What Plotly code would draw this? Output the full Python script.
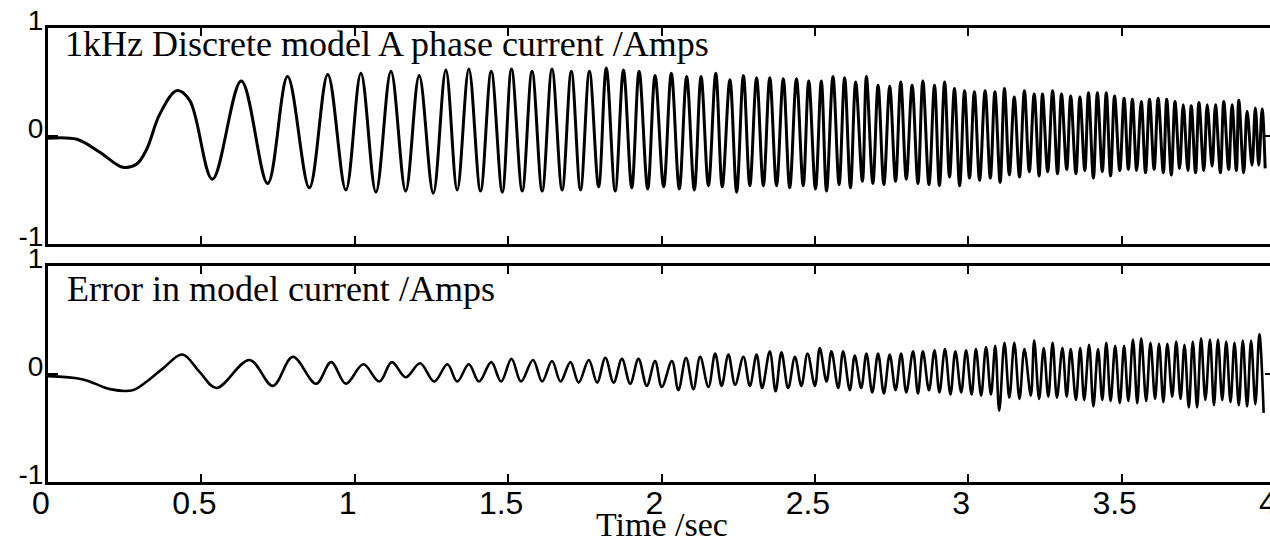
import plotly.graph_objects as go

# Model phase current (top trace): time in s, current in A
t_model = [
    0.000, 0.094, 0.169, 0.244, 0.289, 0.322, 0.364, 0.420, 0.462, 0.536,
    0.630, 0.716, 0.781, 0.852, 0.912, 0.971, 1.020, 1.069, 1.118, 1.166,
    1.210, 1.256, 1.297, 1.334, 1.372, 1.410, 1.445, 1.481, 1.511, 1.546,
    1.578, 1.611, 1.643, 1.676, 1.706, 1.736, 1.765, 1.795, 1.820, 1.849,
    1.876, 1.903, 1.927, 1.955, 1.979, 2.007, 2.032, 2.058, 2.082, 2.107,
    2.129, 2.153, 2.177, 2.198, 2.223, 2.245, 2.267, 2.288, 2.310, 2.332,
    2.353, 2.375, 2.397, 2.418, 2.440, 2.462, 2.480, 2.502, 2.521, 2.538,
    2.559, 2.579, 2.597, 2.616, 2.633, 2.655, 2.668, 2.689, 2.706, 2.725,
    2.744, 2.763, 2.780, 2.798, 2.817, 2.836, 2.852, 2.872, 2.890, 2.906,
    2.923, 2.939, 2.955, 2.972, 2.988, 3.004, 3.020, 3.037, 3.055, 3.072,
    3.087, 3.104, 3.118, 3.134, 3.150, 3.167, 3.183, 3.199, 3.215, 3.231,
    3.242, 3.259, 3.275, 3.291, 3.304, 3.321, 3.334, 3.351, 3.364, 3.380,
    3.392, 3.408, 3.421, 3.437, 3.450, 3.464, 3.477, 3.494, 3.508, 3.522,
    3.535, 3.549, 3.564, 3.578, 3.591, 3.606, 3.619, 3.636, 3.647, 3.662,
    3.674, 3.689, 3.701, 3.716, 3.727, 3.741, 3.752, 3.768, 3.779, 3.795,
    3.806, 3.822, 3.833, 3.849, 3.860, 3.874, 3.882, 3.898, 3.909, 3.925,
    3.936, 3.947, 3.958, 3.968,
]
i_model = [
    -0.02, -0.03, -0.15, -0.29, -0.26, -0.12, 0.20, 0.42, 0.33, -0.40,
    0.51, -0.44, 0.55, -0.48, 0.57, -0.50, 0.58, -0.52, 0.60, -0.51,
    0.56, -0.53, 0.61, -0.50, 0.62, -0.51, 0.60, -0.52, 0.62, -0.51,
    0.60, -0.51, 0.62, -0.50, 0.60, -0.50, 0.60, -0.47, 0.63, -0.51,
    0.61, -0.48, 0.60, -0.49, 0.56, -0.47, 0.58, -0.49, 0.55, -0.50,
    0.55, -0.46, 0.58, -0.47, 0.52, -0.52, 0.56, -0.46, 0.54, -0.46,
    0.54, -0.46, 0.53, -0.48, 0.53, -0.46, 0.51, -0.49, 0.51, -0.51,
    0.55, -0.45, 0.54, -0.48, 0.50, -0.42, 0.55, -0.44, 0.47, -0.45,
    0.46, -0.42, 0.50, -0.40, 0.47, -0.44, 0.51, -0.45, 0.47, -0.46,
    0.50, -0.38, 0.44, -0.46, 0.42, -0.39, 0.41, -0.41, 0.42, -0.39,
    0.41, -0.43, 0.44, -0.36, 0.36, -0.38, 0.42, -0.33, 0.39, -0.37,
    0.39, -0.33, 0.42, -0.35, 0.39, -0.31, 0.37, -0.35, 0.36, -0.32,
    0.40, -0.39, 0.40, -0.33, 0.40, -0.37, 0.37, -0.32, 0.35, -0.31,
    0.34, -0.32, 0.32, -0.34, 0.34, -0.31, 0.35, -0.34, 0.34, -0.36,
    0.32, -0.30, 0.29, -0.32, 0.28, -0.34, 0.31, -0.32, 0.29, -0.28,
    0.29, -0.34, 0.32, -0.31, 0.29, -0.32, 0.33, -0.34, 0.23, -0.27,
    0.26, -0.27, 0.25, -0.30,
]

# Error in model current (bottom trace): time in s, error in A
t_error = [
    0.000, 0.114, 0.202, 0.276, 0.322, 0.374, 0.438, 0.494, 0.549, 0.657,
    0.733, 0.798, 0.874, 0.923, 0.971, 1.028, 1.080, 1.121, 1.166, 1.213,
    1.259, 1.302, 1.334, 1.372, 1.405, 1.445, 1.477, 1.511, 1.542, 1.581,
    1.611, 1.643, 1.671, 1.703, 1.730, 1.763, 1.790, 1.817, 1.844, 1.871,
    1.898, 1.925, 1.952, 1.979, 2.001, 2.034, 2.055, 2.080, 2.104, 2.126,
    2.153, 2.175, 2.196, 2.218, 2.240, 2.267, 2.288, 2.310, 2.328, 2.353,
    2.372, 2.391, 2.413, 2.435, 2.456, 2.476, 2.500, 2.516, 2.538, 2.554,
    2.576, 2.592, 2.614, 2.630, 2.651, 2.668, 2.687, 2.706, 2.725, 2.744,
    2.763, 2.781, 2.798, 2.820, 2.836, 2.852, 2.872, 2.890, 2.906, 2.924,
    2.942, 2.958, 2.977, 2.993, 3.011, 3.025, 3.042, 3.058, 3.074, 3.088,
    3.101, 3.118, 3.134, 3.150, 3.167, 3.183, 3.204, 3.215, 3.231, 3.246,
    3.261, 3.275, 3.289, 3.307, 3.321, 3.334, 3.351, 3.365, 3.378, 3.394,
    3.408, 3.423, 3.437, 3.450, 3.464, 3.479, 3.494, 3.508, 3.522, 3.537,
    3.551, 3.564, 3.580, 3.594, 3.609, 3.622, 3.636, 3.649, 3.665, 3.678,
    3.692, 3.705, 3.719, 3.732, 3.746, 3.759, 3.773, 3.788, 3.801, 3.814,
    3.828, 3.841, 3.855, 3.868, 3.882, 3.895, 3.909, 3.922, 3.936, 3.949,
    3.963,
]
i_error = [
    -0.02, -0.05, -0.14, -0.15, -0.07, 0.05, 0.18, 0.02, -0.13, 0.13,
    -0.11, 0.16, -0.09, 0.11, -0.09, 0.09, -0.07, 0.11, -0.03, 0.10,
    -0.07, 0.09, -0.07, 0.09, -0.07, 0.11, -0.07, 0.14, -0.07, 0.13,
    -0.07, 0.12, -0.07, 0.11, -0.08, 0.13, -0.08, 0.15, -0.08, 0.14,
    -0.09, 0.14, -0.11, 0.12, -0.12, 0.12, -0.15, 0.15, -0.14, 0.16,
    -0.12, 0.19, -0.11, 0.18, -0.10, 0.16, -0.11, 0.18, -0.13, 0.21,
    -0.16, 0.20, -0.13, 0.16, -0.11, 0.19, -0.11, 0.24, -0.07, 0.21,
    -0.13, 0.21, -0.15, 0.17, -0.13, 0.19, -0.17, 0.19, -0.18, 0.18,
    -0.15, 0.19, -0.17, 0.21, -0.18, 0.21, -0.15, 0.22, -0.17, 0.23,
    -0.19, 0.21, -0.17, 0.22, -0.19, 0.23, -0.20, 0.25, -0.19, 0.26,
    -0.34, 0.29, -0.22, 0.29, -0.23, 0.23, -0.20, 0.31, -0.23, 0.24,
    -0.21, 0.29, -0.22, 0.24, -0.21, 0.23, -0.24, 0.24, -0.24, 0.27,
    -0.30, 0.23, -0.24, 0.29, -0.25, 0.26, -0.27, 0.26, -0.25, 0.32,
    -0.27, 0.33, -0.25, 0.29, -0.23, 0.28, -0.26, 0.28, -0.21, 0.30,
    -0.23, 0.27, -0.31, 0.30, -0.31, 0.33, -0.24, 0.32, -0.29, 0.32,
    -0.24, 0.30, -0.26, 0.29, -0.29, 0.31, -0.30, 0.31, -0.28, 0.37,
    -0.36,
]

x_ticks = [0, 0.5, 1, 1.5, 2, 2.5, 3, 3.5, 4]
x_tick_text = ["0", "0.5", "1", "1.5", "2", "2.5", "3", "3.5", "4"]
y_ticks = [-1, 0, 1]
y_tick_text = ["-1", "0", "1"]

top_title = "1kHz Discrete model A phase current /Amps"
bottom_title = "Error in model current /Amps"
x_title = "Time /sec"

SANS = "Liberation Sans, Arial, Helvetica, sans-serif"
SERIF = "Liberation Serif, Times New Roman, serif"

fig = go.Figure()
fig.add_trace(go.Scatter(
    x=t_model, y=i_model, mode="lines", xaxis="x2", yaxis="y2",
    line=dict(color="black", width=3.0, shape="spline", smoothing=1.0),
    showlegend=False, hoverinfo="skip",
))
fig.add_trace(go.Scatter(
    x=t_error, y=i_error, mode="lines", xaxis="x", yaxis="y",
    line=dict(color="black", width=2.6, shape="spline", smoothing=1.0),
    showlegend=False, hoverinfo="skip",
))

common_x = dict(
    range=[0, 4], tickmode="array", tickvals=x_ticks, ticktext=x_tick_text,
    ticks="inside", ticklen=8, tickwidth=2, tickcolor="black",
    showline=True, linecolor="black", linewidth=3, mirror="ticks",
    showgrid=False, zeroline=False, fixedrange=True,
    tickfont=dict(family=SANS, size=32, color="black"),
)
common_y = dict(
    range=[-1, 1], tickmode="array", tickvals=y_ticks, ticktext=y_tick_text,
    ticks="inside", ticklen=10, tickwidth=2, tickcolor="black",
    showline=True, linecolor="black", linewidth=3, mirror="ticks",
    showgrid=False, zeroline=False, fixedrange=True,
    tickfont=dict(family=SANS, size=28, color="black"),
    ticklabelstandoff=-4, ticklabelshift=-8,
)

H_PLOT = 454
gap = 22 / H_PLOT
fig.update_layout(
    width=1280, height=545,
    margin=dict(l=48, r=2, t=28, b=63),
    paper_bgcolor="white", plot_bgcolor="white",
    xaxis=dict(common_x, domain=[0, 1], anchor="y", ticklabelshift=-7,
               ticklabelstandoff=-9),
    yaxis=dict(common_y, domain=[0, 216 / H_PLOT], anchor="x"),
    xaxis2=dict(common_x, domain=[0, 1], anchor="y2", showticklabels=False,
                matches="x"),
    yaxis2=dict(common_y, domain=[216 / H_PLOT + gap, 1], anchor="x2"),
    annotations=[
        dict(text=top_title, xref="x2 domain", yref="y2 domain",
             x=0.012, y=0.925, xanchor="left", yanchor="middle",
             showarrow=False, font=dict(family=SERIF, size=36, color="black")),
        dict(text=bottom_title, xref="x domain", yref="y domain",
             x=0.014, y=0.893, xanchor="left", yanchor="middle",
             showarrow=False, font=dict(family=SERIF, size=36, color="black")),
        dict(text=x_title, xref="x", yref="y domain",
             x=2, y=-0.196, xanchor="center", yanchor="middle",
             showarrow=False, font=dict(family=SERIF, size=34, color="black")),
    ],
)

fig.write_html(
    "out.html",
    config={"displayModeBar": False, "staticPlot": True},
    post_script=(
        "document.documentElement.style.overflow='hidden';"
        "document.body.style.overflow='hidden';"
        "document.body.style.margin='0';"
    ),
)
